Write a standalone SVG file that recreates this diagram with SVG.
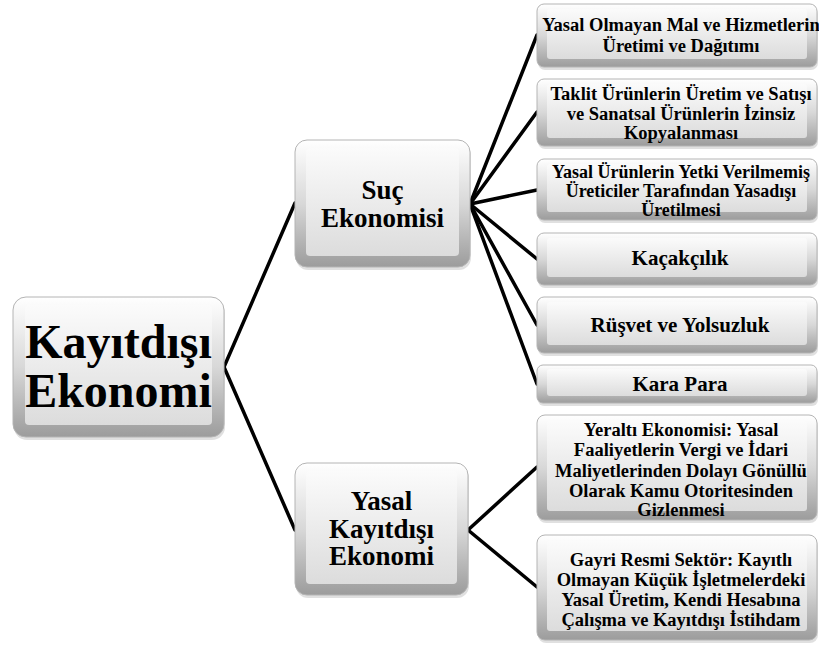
<svg xmlns="http://www.w3.org/2000/svg" width="819" height="648" viewBox="0 0 819 648">
<defs>
<linearGradient id="gOut" x1="0" y1="0" x2="0" y2="1">
<stop offset="0" stop-color="#ffffff"/>
<stop offset="0.5" stop-color="#d8d8d8"/>
<stop offset="1" stop-color="#9c9c9c"/>
</linearGradient>
<linearGradient id="gIn" x1="0" y1="0" x2="0" y2="1">
<stop offset="0" stop-color="#fbfbfb"/>
<stop offset="1" stop-color="#dcdcdc"/>
</linearGradient>
</defs>
<rect width="819" height="648" fill="#fff"/>
<g id="connectors" stroke="#000" stroke-width="3.5" stroke-linecap="round">
<line x1="224" y1="367" x2="295" y2="203"/>
<line x1="224" y1="367" x2="295" y2="530"/>
<line x1="470" y1="204" x2="537" y2="35"/>
<line x1="470" y1="204" x2="537" y2="112"/>
<line x1="470" y1="204" x2="537" y2="190"/>
<line x1="470" y1="204" x2="537" y2="259"/>
<line x1="470" y1="204" x2="537" y2="325"/>
<line x1="470" y1="204" x2="537" y2="384"/>
<line x1="468" y1="530" x2="537" y2="467"/>
<line x1="468" y1="530" x2="537" y2="587"/>
</g>
<g id="shadows" fill="#000">
<rect x="14" y="300" width="211" height="140" rx="13" opacity="0.12"/>
<rect x="296" y="143" width="175" height="127" rx="12" opacity="0.12"/>
<rect x="296" y="466" width="173" height="132" rx="12" opacity="0.12"/>
<rect x="538" y="7" width="280" height="63" rx="7" opacity="0.12"/>
<rect x="538" y="82" width="280" height="67" rx="7" opacity="0.12"/>
<rect x="538" y="162" width="280" height="61" rx="7" opacity="0.12"/>
<rect x="538" y="236" width="280" height="52" rx="7" opacity="0.12"/>
<rect x="538" y="300" width="280" height="56" rx="7" opacity="0.12"/>
<rect x="538" y="368" width="280" height="38" rx="6" opacity="0.12"/>
<rect x="538" y="418" width="280" height="105" rx="8" opacity="0.12"/>
<rect x="538" y="538" width="280" height="105" rx="8" opacity="0.12"/>
</g>
<g id="root">
<rect x="13" y="297" width="211" height="140" rx="13" fill="url(#gOut)" stroke="#b4b4b4"/>
<rect x="25" y="305" width="187" height="120" rx="4" fill="url(#gIn)"/>
<text x="118.5" y="358" font-family="serif" font-weight="bold" font-size="48" text-anchor="middle">Kayıtdışı</text>
<text x="118.5" y="407" font-family="serif" font-weight="bold" font-size="48" text-anchor="middle">Ekonomi</text>
</g>
<g id="suc">
<rect x="295" y="140" width="175" height="127" rx="12" fill="url(#gOut)" stroke="#b4b4b4"/>
<rect x="306" y="148" width="153" height="108" rx="4" fill="url(#gIn)"/>
<text x="382.5" y="199" font-family="serif" font-weight="bold" font-size="27" text-anchor="middle">Suç</text>
<text x="382.5" y="227" font-family="serif" font-weight="bold" font-size="27" text-anchor="middle">Ekonomisi</text>
</g>
<g id="yasal">
<rect x="295" y="463" width="173" height="132" rx="12" fill="url(#gOut)" stroke="#b4b4b4"/>
<rect x="306" y="471" width="151" height="113" rx="4" fill="url(#gIn)"/>
<text x="381.5" y="510" font-family="serif" font-weight="bold" font-size="27" text-anchor="middle">Yasal</text>
<text x="381.5" y="537.5" font-family="serif" font-weight="bold" font-size="27" text-anchor="middle">Kayıtdışı</text>
<text x="381.5" y="565" font-family="serif" font-weight="bold" font-size="27" text-anchor="middle">Ekonomi</text>
</g>
<g id="b1">
<rect x="537" y="4" width="280" height="63" rx="7" fill="url(#gOut)" stroke="#b4b4b4"/>
<rect x="547" y="9" width="260" height="50" rx="3" fill="url(#gIn)"/>
<text x="681" y="31" font-family="serif" font-weight="bold" font-size="18.5" text-anchor="middle">Yasal Olmayan Mal ve Hizmetlerin</text>
<text x="681" y="52" font-family="serif" font-weight="bold" font-size="18.5" text-anchor="middle">Üretimi ve Dağıtımı</text>
</g>
<g id="b2">
<rect x="537" y="79" width="280" height="67" rx="7" fill="url(#gOut)" stroke="#b4b4b4"/>
<rect x="547" y="84" width="260" height="54" rx="3" fill="url(#gIn)"/>
<text x="681" y="100" font-family="serif" font-weight="bold" font-size="18.5" text-anchor="middle">Taklit Ürünlerin Üretim ve Satışı</text>
<text x="681" y="120" font-family="serif" font-weight="bold" font-size="18.5" text-anchor="middle">ve Sanatsal Ürünlerin İzinsiz</text>
<text x="681" y="139" font-family="serif" font-weight="bold" font-size="18.5" text-anchor="middle">Kopyalanması</text>
</g>
<g id="b3">
<rect x="537" y="159" width="280" height="61" rx="7" fill="url(#gOut)" stroke="#b4b4b4"/>
<rect x="547" y="164" width="260" height="48" rx="3" fill="url(#gIn)"/>
<text x="681" y="178" font-family="serif" font-weight="bold" font-size="18" text-anchor="middle">Yasal Ürünlerin Yetki Verilmemiş</text>
<text x="681" y="197" font-family="serif" font-weight="bold" font-size="18" text-anchor="middle">Üreticiler Tarafından Yasadışı</text>
<text x="681" y="216" font-family="serif" font-weight="bold" font-size="18" text-anchor="middle">Üretilmesi</text>
</g>
<g id="b4">
<rect x="537" y="233" width="280" height="52" rx="7" fill="url(#gOut)" stroke="#b4b4b4"/>
<rect x="547" y="238" width="260" height="39" rx="3" fill="url(#gIn)"/>
<text x="680" y="265" font-family="serif" font-weight="bold" font-size="21" text-anchor="middle">Kaçakçılık</text>
</g>
<g id="b5">
<rect x="537" y="297" width="280" height="56" rx="7" fill="url(#gOut)" stroke="#b4b4b4"/>
<rect x="547" y="302" width="260" height="43" rx="3" fill="url(#gIn)"/>
<text x="680" y="332" font-family="serif" font-weight="bold" font-size="21" text-anchor="middle">Rüşvet ve Yolsuzluk</text>
</g>
<g id="b6">
<rect x="537" y="365" width="280" height="38" rx="6" fill="url(#gOut)" stroke="#b4b4b4"/>
<rect x="547" y="369" width="260" height="27" rx="3" fill="url(#gIn)"/>
<text x="680" y="391" font-family="serif" font-weight="bold" font-size="21" text-anchor="middle">Kara Para</text>
</g>
<g id="b7">
<rect x="537" y="415" width="280" height="105" rx="8" fill="url(#gOut)" stroke="#b4b4b4"/>
<rect x="547" y="421" width="260" height="90" rx="3" fill="url(#gIn)"/>
<text x="681" y="436" font-family="serif" font-weight="bold" font-size="18.5" text-anchor="middle">Yeraltı Ekonomisi: Yasal</text>
<text x="681" y="456" font-family="serif" font-weight="bold" font-size="18.5" text-anchor="middle">Faaliyetlerin Vergi ve İdari</text>
<text x="681" y="477" font-family="serif" font-weight="bold" font-size="18.5" text-anchor="middle">Maliyetlerinden Dolayı Gönüllü</text>
<text x="681" y="497" font-family="serif" font-weight="bold" font-size="18.5" text-anchor="middle">Olarak Kamu Otoritesinden</text>
<text x="681" y="516" font-family="serif" font-weight="bold" font-size="18.5" text-anchor="middle">Gizlenmesi</text>
</g>
<g id="b8">
<rect x="537" y="535" width="280" height="105" rx="8" fill="url(#gOut)" stroke="#b4b4b4"/>
<rect x="547" y="541" width="260" height="90" rx="3" fill="url(#gIn)"/>
<text x="681" y="566" font-family="serif" font-weight="bold" font-size="18.5" text-anchor="middle">Gayri Resmi Sektör: Kayıtlı</text>
<text x="681" y="586" font-family="serif" font-weight="bold" font-size="18.5" text-anchor="middle">Olmayan Küçük İşletmelerdeki</text>
<text x="681" y="606" font-family="serif" font-weight="bold" font-size="18.5" text-anchor="middle">Yasal Üretim, Kendi Hesabına</text>
<text x="681" y="626" font-family="serif" font-weight="bold" font-size="18.5" text-anchor="middle">Çalışma ve Kayıtdışı İstihdam</text>
</g>
</svg>
